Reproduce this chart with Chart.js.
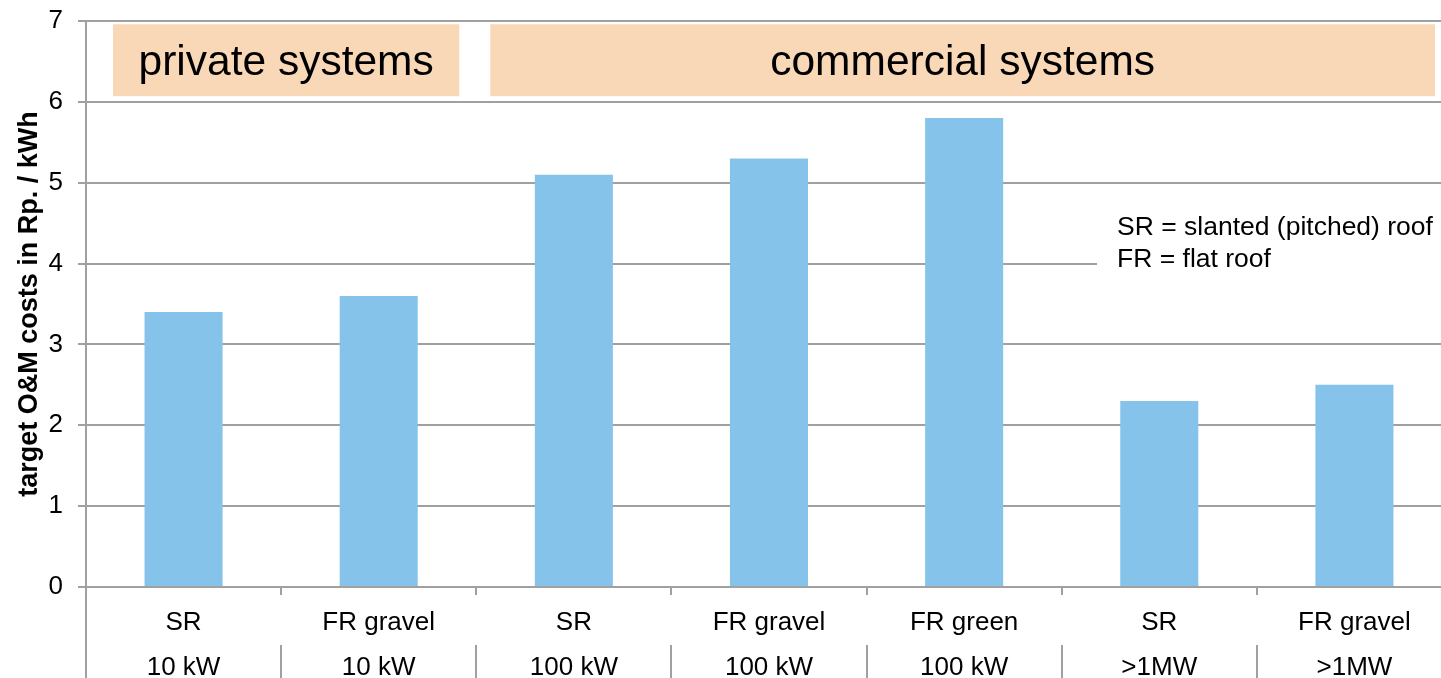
<!DOCTYPE html>
<html>
<head>
<meta charset="utf-8">
<script src="https://cdn.jsdelivr.net/npm/chart.js@4.4.0/dist/chart.umd.min.js"></script>
<style>
  html, body { margin: 0; padding: 0; background: #fff; }
  #wrap { width: 1441px; height: 678px; overflow: hidden; position: relative; }
  #box { width: 1452px; height: 678px; }
</style>
</head>
<body>
<div id="wrap"><div id="box"><canvas id="omChart"></canvas></div></div>
<script>
var roofTypes = ["SR", "FR gravel", "SR", "FR gravel", "FR green", "SR", "FR gravel"];
var plantSizes = ["10 kW", "10 kW", "100 kW", "100 kW", "100 kW", ">1MW", ">1MW"];
var omCosts = [3.4, 3.6, 5.1, 5.3, 5.8, 2.3, 2.5];
var groupLabels = ["private systems", "commercial systems"];
var groupFirst = [0, 2];
var groupLast = [1, 6];
var noteLines = ["SR = slanted (pitched) roof", "FR = flat roof"];
var yTicks = [0, 1, 2, 3, 4, 5, 6, 7];

var gridGrey = "#a0a0a0";
var fontName = "'Liberation Sans', Arial, sans-serif";

var xLabels = roofTypes.map(function (r, i) { return [r, plantSizes[i]]; });

// peach boxes, note text and the separators under the axis
var extras = {
    id: "extras",
    afterDraw: function (chart) {
        var ctx = chart.ctx, x = chart.scales.x, y = chart.scales.y, area = chart.chartArea;
        var half = (x.getPixelForValue(1) - x.getPixelForValue(0)) / 2;
        ctx.save();

        // group boxes
        var top = y.getPixelForValue(6.96), bot = y.getPixelForValue(6.07);
        for (var g = 0; g < groupLabels.length; g++) {
            var l = x.getPixelForValue(groupFirst[g]) - half + (groupFirst[g] === 0 ? 27 : 14);
            var r = x.getPixelForValue(groupLast[g]) + half - 17;
            ctx.fillStyle = "#f9d8b7";
            ctx.fillRect(l, top, r - l, bot - top);
            ctx.fillStyle = "#000";
            ctx.font = "42.5px " + fontName;
            ctx.textAlign = "center";
            ctx.textBaseline = "middle";
            ctx.fillText(groupLabels[g], (l + r) / 2, (top + bot) / 2 + 3);
        }

        // note with white background over the gridline
        ctx.fillStyle = "#fff";
        ctx.fillRect(1097, 205, 400, 80);
        ctx.fillStyle = "#000";
        ctx.font = "26.5px " + fontName;
        ctx.textAlign = "left";
        for (var n = 0; n < noteLines.length; n++) {
            ctx.fillText(noteLines[n], 1117, 228 + n * 32);
        }

        // axis line down to the bottom, separators
        ctx.strokeStyle = gridGrey;
        ctx.lineWidth = 2;
        ctx.beginPath();
        ctx.moveTo(area.left, area.top);
        ctx.lineTo(area.left, 678);
        for (var i = 1; i < roofTypes.length; i++) {
            var px = Math.round(x.getPixelForValue(i) - half);
            ctx.moveTo(px, area.bottom);
            ctx.lineTo(px, area.bottom + 8);
            ctx.moveTo(px, area.bottom + 58);
            ctx.lineTo(px, 678);
        }
        ctx.stroke();
        ctx.restore();
    }
};

new Chart(document.getElementById("omChart"), {
    type: "bar",
    data: {
        labels: xLabels,
        datasets: [{
            data: omCosts,
            backgroundColor: "#85c3eb",
            barPercentage: 0.4,
            categoryPercentage: 1
        }]
    },
    options: {
        responsive: true,
        maintainAspectRatio: false,
        animation: false,
        layout: { padding: { top: 21, left: 0, right: 0, bottom: 0 } },
        plugins: {
            legend: { display: false },
            tooltip: { enabled: false }
        },
        scales: {
            x: {
                grid: { display: false },
                border: { display: true, color: gridGrey, width: 2 },
                ticks: {
                    color: "#000",
                    font: { family: fontName, size: 26, lineHeight: 45 / 26 },
                    padding: 5,
                    maxRotation: 0,
                    autoSkip: false
                },
                afterFit: function (s) {
                    s.height = 91;
                    s.paddingLeft = 0;
                    s.paddingRight = 0;
                }
            },
            y: {
                min: 0,
                max: 7,
                afterBuildTicks: function (s) {
                    s.ticks = yTicks.map(function (v) { return { value: v }; });
                },
                grid: { color: gridGrey, lineWidth: 2, tickLength: 8 },
                border: { display: false },
                ticks: {
                    color: "#000",
                    font: { family: fontName, size: 26 },
                    padding: 15
                },
                title: {
                    display: true,
                    text: "target O&M costs in Rp. / kWh",
                    color: "#000",
                    font: { family: fontName, size: 27, weight: "bold" },
                    padding: { top: 13, bottom: 0 }
                },
                afterFit: function (s) {
                    s.width = 86;
                    s.paddingTop = 0;
                    s.paddingBottom = 0;
                }
            }
        }
    },
    plugins: [extras]
});
</script>
</body>
</html>
